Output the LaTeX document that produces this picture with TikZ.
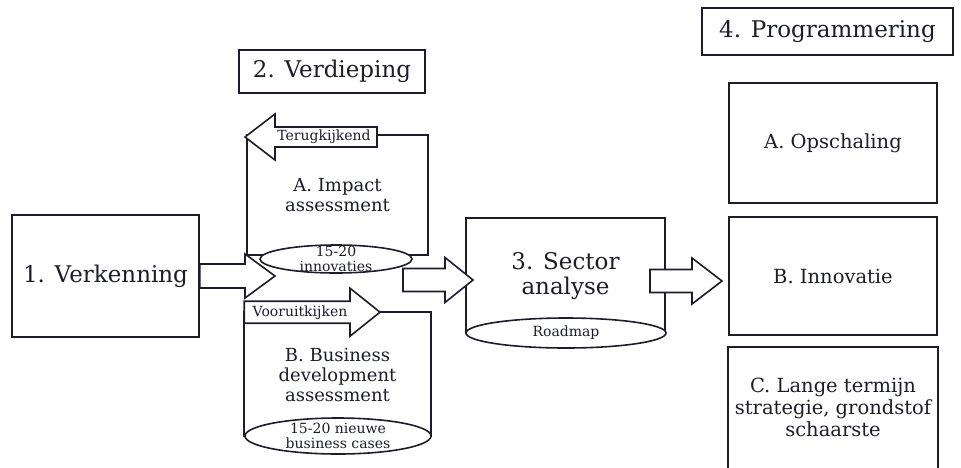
\documentclass[tikz,border=0pt]{standalone}
\usepackage{fontspec}
\setmainfont{DejaVu Serif}
\usepackage{tikz}
\usetikzlibrary{shapes.geometric}
\usetikzlibrary{calc}

\definecolor{ink}{RGB}{28,28,44}

% horizontal block arrow: tail, tip, shaft half width, head half width, head length
\newcommand{\blockarrow}[5]{%
  \draw[blockarr] let \p1=(#1), \p2=(#2), \n1={\x2-(#5pt)} in
    (\x1,{\y1+#3pt}) -- (\n1,{\y1+#3pt}) -- (\n1,{\y1+#4pt}) -- (\x2,\y1)
    -- (\n1,{\y1-#4pt}) -- (\n1,{\y1-#3pt}) -- (\x1,{\y1-#3pt}) -- cycle;}

\begin{document}
\begin{tikzpicture}[x=1pt,y=-1pt,line width=1.6pt,color=ink,
    frame/.style={draw,fill=white},
    big/.style={font=\fontsize{23}{25}\selectfont,align=center,inner sep=0pt},
    mid/.style={font=\fontsize{19.5}{22}\selectfont,align=center,inner sep=0pt},
    sub/.style={font=\fontsize{18}{20}\selectfont,align=center,inner sep=0pt},
    small/.style={font=\fontsize{14}{15}\selectfont,align=center,inner sep=0pt},
    oval/.style={ellipse,draw,fill=white,inner sep=0pt},
    blockarr/.style={draw,fill=white,line join=miter}]

    \useasboundingbox (0,0) rectangle (961,467);

    \node[big,frame,minimum width=187pt,minimum height=122pt] (verk)   at (105.5,276)  {1. Verkenning};
    \node[big,frame,minimum width=186pt,minimum height=43pt]  (verd)   at (332,71.5)   {2. Verdieping};
    \node[sub,frame,minimum width=181pt,minimum height=120pt] (impact) at (337.5,195)  {A. Impact\\assessment};
    \node[sub,minimum width=185pt,minimum height=123pt]       (busdev) at (337.5,374.5) {B. Business\\development\\assessment};
    \node[big,minimum width=197pt,minimum height=114pt]       (sector) at (565.5,276)  {3. Sector\\analyse};
    \node[big,frame,minimum width=251pt,minimum height=47pt]  (prog)   at (827.5,31.5) {4. Programmering};
    \node[mid,frame,minimum width=208pt,minimum height=120pt] (opsch)  at (833,143)    {A. Opschaling};
    \node[mid,frame,minimum width=208pt,minimum height=118pt] (innov)  at (833,276)    {B. Innovatie};
    \node[mid,minimum width=208pt,minimum height=119pt]       (lange)  at (833,407.5)  {C. Lange termijn\\strategie, grondstof\\schaarste};

    \draw (busdev.south west) -- (busdev.north west) -- (busdev.north east) -- (busdev.south east);
    \draw (sector.south west) -- (sector.north west) -- (sector.north east) -- (sector.south east);
    \draw (lange.south west) -- (lange.north west) -- (lange.north east) -- (lange.south east);

    \node[oval,minimum width=152pt,minimum height=28pt] (innovaties) at (336,259) {};
    \node[oval,minimum width=200pt,minimum height=30pt] (roadmap)    at (566,333) {};
    \node[oval,minimum width=186pt,minimum height=36pt] (cases)      at (338,436) {};
    \node[small] at (innovaties) {15-20\\innovaties};
    \node[small] at (roadmap)    {Roadmap};
    \node[small] at (cases)      {15-20 nieuwe\\business cases};

    \coordinate (t1)     at (275,277);
    \coordinate (terug0) at (377,137);
    \coordinate (terug1) at (245,137);
    \coordinate (voor1)  at (380,313);
    \coordinate (s0)     at (403,280);
    \coordinate (s1)     at (473,280);
    \coordinate (p0)     at (650,281);
    \coordinate (p1)     at (722,281);

    \blockarrow{verk.east}{t1}{12}{22}{30}
    \blockarrow{terug0}{terug1}{10}{23}{-30}
    \blockarrow{busdev.north west}{voor1}{11}{24}{30}
    \blockarrow{s0}{s1}{11.5}{22.5}{28}
    \blockarrow{p0}{p1}{11.5}{23}{30}

    \node[small] at (324,137) {Terugkijkend};
    \node[small] at (300,313) {Vooruitkijken};
\end{tikzpicture}
\end{document}
